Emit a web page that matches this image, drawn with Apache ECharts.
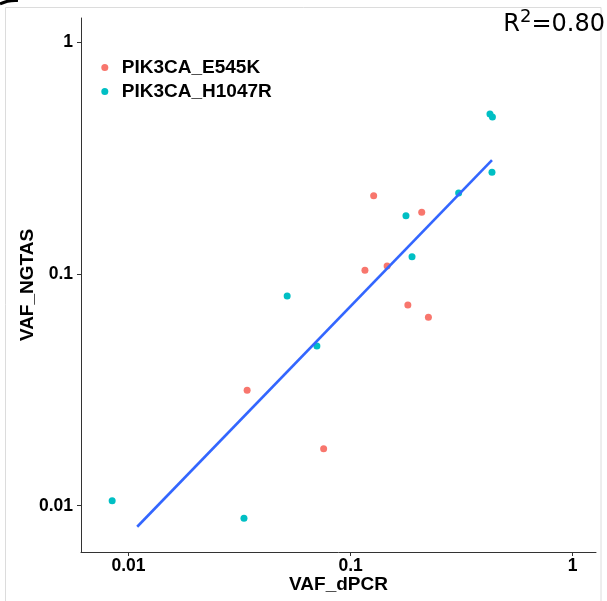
<!DOCTYPE html>
<html>
<head>
<meta charset="utf-8">
<script src="https://cdn.jsdelivr.net/npm/echarts@6/dist/echarts.min.js"></script>
<style>
html,body{margin:0;padding:0;background:#fff;}
#main{width:607px;height:601px;}
</style>
</head>
<body>
<div id="main"></div>
<script>
// Series names
const seriesNames = ['PIK3CA_E545K', 'PIK3CA_H1047R'];
// PIK3CA_E545K: VAF_dPCR (x) and VAF_NGTAS (y)
const e545kX = [0.127, 0.209, 0.116, 0.146, 0.181, 0.224, 0.0342, 0.0756];
const e545kY = [0.218, 0.185, 0.104, 0.1085, 0.0736, 0.0651, 0.0315, 0.0176];
// PIK3CA_H1047R
const h1047rX = [0.1775, 0.3065, 0.433, 0.424, 0.435, 0.189, 0.0518, 0.0705, 0.00844, 0.0331];
const h1047rY = [0.179, 0.224, 0.2755, 0.492, 0.478, 0.119, 0.0805, 0.049, 0.0105, 0.00882];
// Fitted regression line endpoints (log-log)
const fitX = [0.01094, 0.433];
const fitY = [0.00811, 0.311];
// Tick values
const xTicks = [0.01, 0.1, 1];
const yTicks = [0.01, 0.1, 1];
const r2Text = '0.80';

const zip = (a, b) => a.map((v, i) => [v, b[i]]);
const fmt = v => String(+v.toPrecision(6));

const chart = echarts.init(document.getElementById('main'), null, {renderer: 'canvas'});

const axisCommon = {
  type: 'log',
  logBase: 10,
  splitLine: {show: false},
  axisLine: {show: true, lineStyle: {color: '#333', width: 1}},
  axisTick: {show: true, length: 4, inside: false, lineStyle: {color: '#333', width: 1}},
  nameMoveOverlap: false,
  nameTextStyle: {fontFamily: 'Liberation Sans', fontWeight: 'bold', fontSize: 19, color: '#000'}
};

chart.setOption({
  animation: false,
  backgroundColor: '#fff',
  grid: {left: 81, right: 11, top: 18, bottom: 49, containLabel: false},
  xAxis: Object.assign({}, axisCommon, {
    min: 0.00611, max: 1.273,
    name: 'VAF_dPCR', nameLocation: 'middle', nameGap: 23,
    axisTick: Object.assign({}, axisCommon.axisTick, {customValues: xTicks}),
    axisLabel: {customValues: xTicks, formatter: fmt, margin: 5,
      fontFamily: 'Liberation Sans', fontWeight: 'bold', fontSize: 17.5, color: '#000'}
  }),
  yAxis: Object.assign({}, axisCommon, {
    min: 0.00631, max: 1.278,
    name: 'VAF_NGTAS', nameLocation: 'middle', nameGap: 44, nameRotate: 90,
    axisTick: Object.assign({}, axisCommon.axisTick, {customValues: yTicks}),
    axisLabel: {customValues: yTicks, formatter: fmt, margin: 8,
      fontFamily: 'Liberation Sans', fontWeight: 'bold', fontSize: 17.5, color: '#000'}
  }),
  legend: {
    orient: 'vertical', left: 96.3, top: 53,
    itemWidth: 24, itemHeight: 7, itemGap: 5,
    icon: 'circle',
    textStyle: {fontFamily: 'Liberation Sans', fontWeight: 'bold', fontSize: 19, color: '#000', lineHeight: 18},
    data: seriesNames
  },
  graphic: [
    {type: 'rect', silent: true, z: -10,
      shape: {x: 5.5, y: 7.5, width: 595.5, height: 610},
      style: {fill: 'none', stroke: '#dcdcdc', lineWidth: 1}},
    {type: 'bezierCurve', silent: true,
      shape: {x1: 0, y1: 4, x2: 18, y2: 0.5, cpx1: 6, cpy1: 1, cpx2: 12, cpy2: 0},
      style: {stroke: '#000', lineWidth: 3, fill: 'none'}},
    {type: 'text', silent: true, right: 2, top: 8,
      style: {
        text: '{r|R}{s|2}{r|=' + r2Text + '}',
        rich: {
          r: {fontFamily: 'DejaVu Sans', fontSize: 24, fill: '#000', verticalAlign: 'bottom', lineHeight: 29},
          s: {fontFamily: 'DejaVu Sans', fontSize: 18, fill: '#000', verticalAlign: 'top', lineHeight: 29, padding: [0, 0, 10, 0]}
        }
      }}
  ],
  series: [
    {name: seriesNames[0], type: 'scatter', symbol: 'circle', symbolSize: 7,
      itemStyle: {color: '#F8766D', opacity: 1}, data: zip(e545kX, e545kY), z: 2},
    {name: seriesNames[1], type: 'scatter', symbol: 'circle', symbolSize: 7,
      itemStyle: {color: '#00BFC4', opacity: 1}, data: zip(h1047rX, h1047rY), z: 2},
    {name: 'fit', type: 'line', symbol: 'none', data: zip(fitX, fitY),
      lineStyle: {color: '#3366FF', width: 2.6}, z: 3, silent: true}
  ]
});
</script>
</body>
</html>
